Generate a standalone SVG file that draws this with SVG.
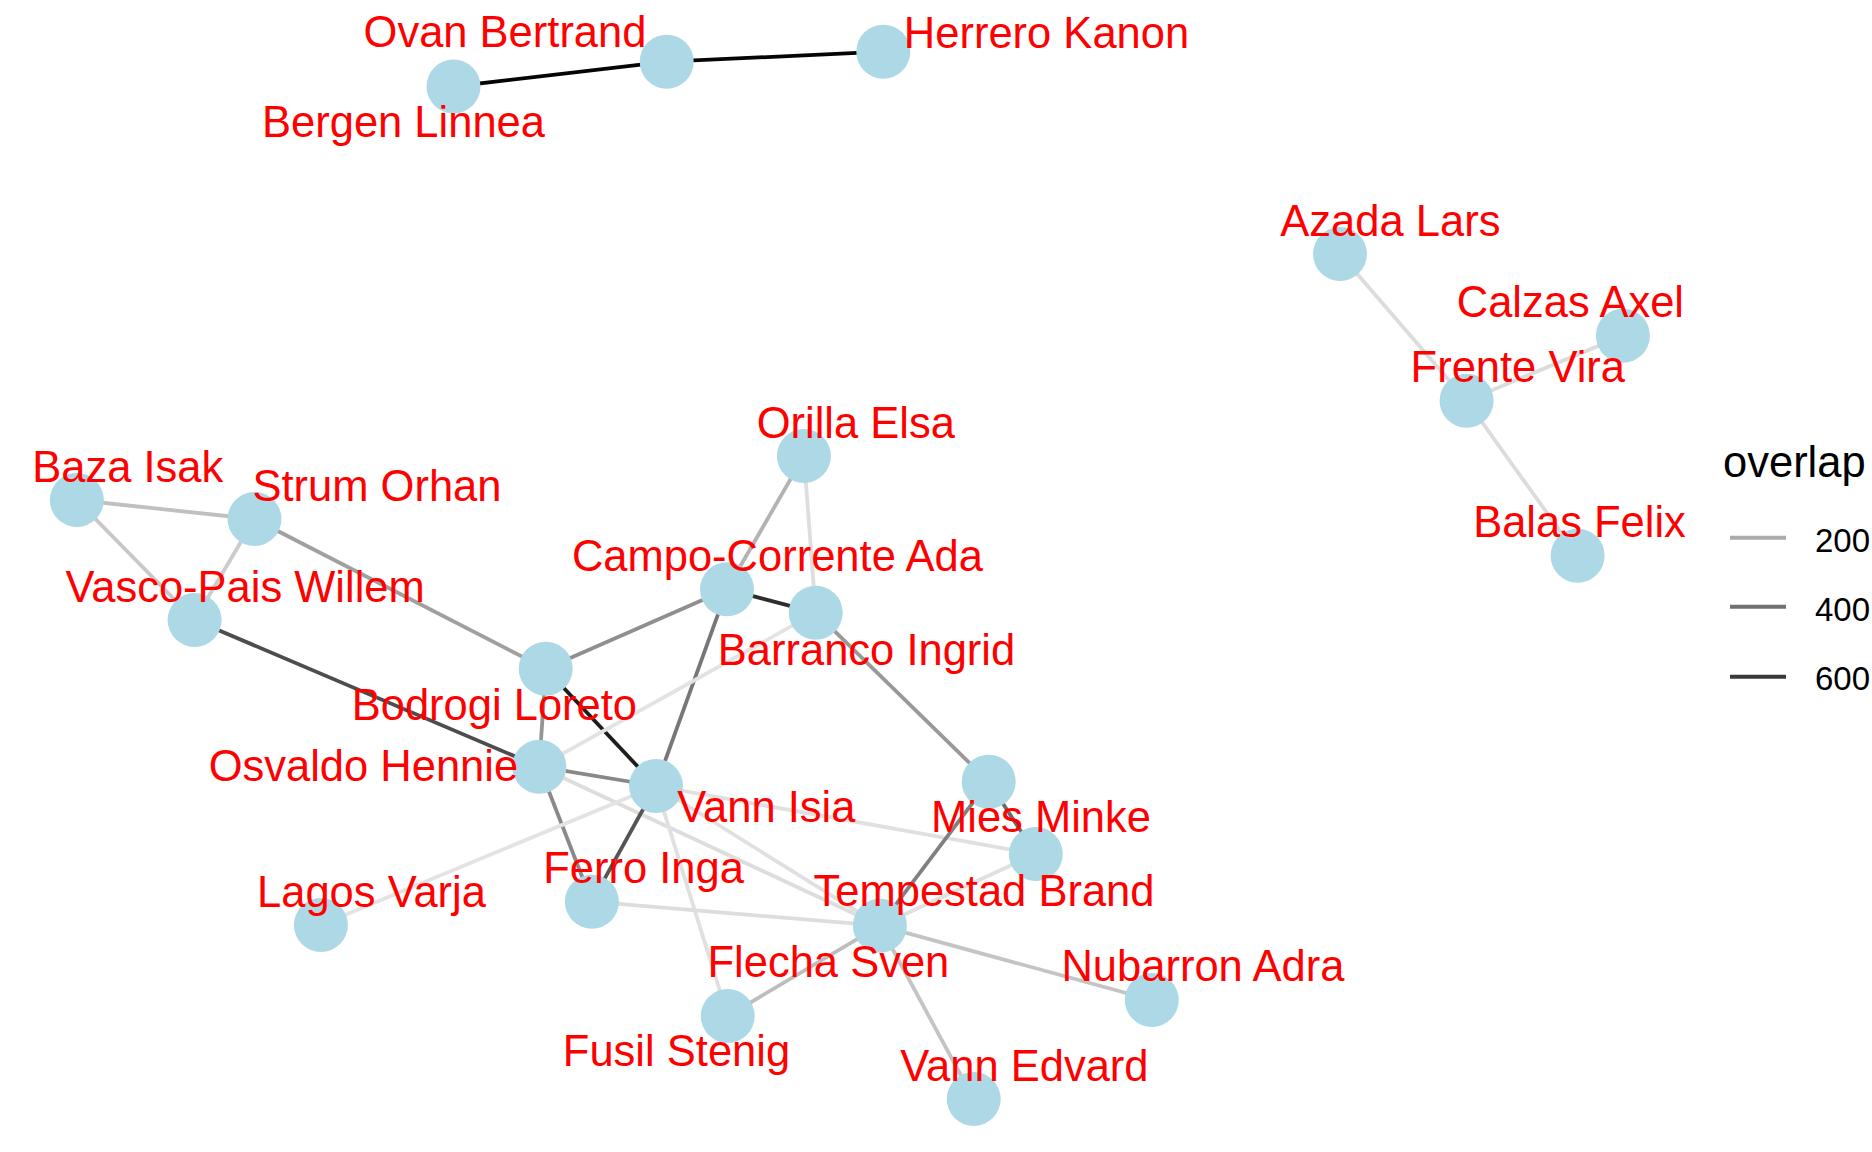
<svg xmlns="http://www.w3.org/2000/svg" width="1872" height="1152" viewBox="0 0 1872 1152">
  <style>
    .edge { fill: none; stroke-width: 3.8; stroke-linecap: butt; }
    .node circle { fill: #ADD8E6; }
    .label { font-family: "Liberation Sans", Arial, sans-serif; font-size: 43.5px; fill: #FF0000; text-anchor: middle; }
    .legend-title { font-family: "Liberation Sans", Arial, sans-serif; font-size: 43.5px; fill: #000000; }
    .legend-text { font-family: "Liberation Sans", Arial, sans-serif; font-size: 33px; fill: #000000; }
  </style>
  <rect width="1872" height="1152" fill="#FFFFFF"/>

  <!-- connectors, shaded by overlap -->
  <g id="edges">
    <line class="edge" x1="453.5" y1="86.5" x2="666.7" y2="61.7" stroke="#050505"/>
    <line class="edge" x1="666.7" y1="61.7" x2="883.3" y2="51.7" stroke="#050505"/>
    <line class="edge" x1="1340" y1="254" x2="1466.6" y2="400.7" stroke="#dcdcdc"/>
    <line class="edge" x1="1466.6" y1="400.7" x2="1622.9" y2="335.7" stroke="#dcdcdc"/>
    <line class="edge" x1="1466.6" y1="400.7" x2="1577.6" y2="555.7" stroke="#dcdcdc"/>
    <line class="edge" x1="76.8" y1="500" x2="254.5" y2="519" stroke="#c0c0c0"/>
    <line class="edge" x1="76.8" y1="500" x2="194.6" y2="620" stroke="#c8c8c8"/>
    <line class="edge" x1="254.5" y1="519" x2="194.6" y2="620" stroke="#cccccc"/>
    <line class="edge" x1="254.5" y1="519" x2="545.7" y2="668.7" stroke="#a0a0a0"/>
    <line class="edge" x1="194.6" y1="620" x2="539.3" y2="766.7" stroke="#4d4d4d"/>
    <line class="edge" x1="545.7" y1="668.7" x2="727" y2="589.3" stroke="#8f8f8f"/>
    <line class="edge" x1="545.7" y1="668.7" x2="656" y2="786" stroke="#1e1e1e"/>
    <line class="edge" x1="545.7" y1="668.7" x2="539.3" y2="766.7" stroke="#959595"/>
    <line class="edge" x1="803.9" y1="456" x2="727" y2="589.3" stroke="#b3b3b3"/>
    <line class="edge" x1="803.9" y1="456" x2="815.7" y2="612.7" stroke="#dedede"/>
    <line class="edge" x1="727" y1="589.3" x2="815.7" y2="612.7" stroke="#2d2d2d"/>
    <line class="edge" x1="727" y1="589.3" x2="656" y2="786" stroke="#777777"/>
    <line class="edge" x1="815.7" y1="612.7" x2="539.3" y2="766.7" stroke="#e3e3e3"/>
    <line class="edge" x1="815.7" y1="612.7" x2="988.7" y2="781.7" stroke="#999999"/>
    <line class="edge" x1="539.3" y1="766.7" x2="656" y2="786" stroke="#888888"/>
    <line class="edge" x1="539.3" y1="766.7" x2="591.9" y2="901.7" stroke="#8a8a8a"/>
    <line class="edge" x1="539.3" y1="766.7" x2="879.9" y2="925.7" stroke="#dddddd"/>
    <line class="edge" x1="656" y1="786" x2="591.9" y2="901.7" stroke="#555555"/>
    <line class="edge" x1="656" y1="786" x2="1035.8" y2="854" stroke="#e0e0e0"/>
    <line class="edge" x1="656" y1="786" x2="727.7" y2="1016" stroke="#e0e0e0"/>
    <line class="edge" x1="656" y1="786" x2="879.9" y2="925.7" stroke="#e0e0e0"/>
    <line class="edge" x1="320.9" y1="925" x2="656" y2="786" stroke="#e3e3e3"/>
    <line class="edge" x1="591.9" y1="901.7" x2="879.9" y2="925.7" stroke="#dddddd"/>
    <line class="edge" x1="879.9" y1="925.7" x2="988.7" y2="781.7" stroke="#808080"/>
    <line class="edge" x1="879.9" y1="925.7" x2="1035.8" y2="854" stroke="#e0e0e0"/>
    <line class="edge" x1="879.9" y1="925.7" x2="727.7" y2="1016" stroke="#bdbdbd"/>
    <line class="edge" x1="879.9" y1="925.7" x2="1151.8" y2="1000" stroke="#c4c4c4"/>
    <line class="edge" x1="879.9" y1="925.7" x2="973.7" y2="1099" stroke="#c4c4c4"/>
    <line class="edge" x1="988.7" y1="781.7" x2="1035.8" y2="854" stroke="#6a6a6a"/>
  </g>

  <!-- nodes -->
  <g id="node-bergen-linnea" class="node"><circle cx="453.5" cy="86.5" r="27"/></g>
  <g id="node-ovan-bertrand" class="node"><circle cx="666.7" cy="61.7" r="27"/></g>
  <g id="node-herrero-kanon" class="node"><circle cx="883.3" cy="51.7" r="27"/></g>
  <g id="node-azada-lars" class="node"><circle cx="1340" cy="254" r="27"/></g>
  <g id="node-calzas-axel" class="node"><circle cx="1622.9" cy="335.7" r="27"/></g>
  <g id="node-frente-vira" class="node"><circle cx="1466.6" cy="400.7" r="27"/></g>
  <g id="node-balas-felix" class="node"><circle cx="1577.6" cy="555.7" r="27"/></g>
  <g id="node-orilla-elsa" class="node"><circle cx="803.9" cy="456" r="27"/></g>
  <g id="node-baza-isak" class="node"><circle cx="76.8" cy="500" r="27"/></g>
  <g id="node-strum-orhan" class="node"><circle cx="254.5" cy="519" r="27"/></g>
  <g id="node-vasco-pais-willem" class="node"><circle cx="194.6" cy="620" r="27"/></g>
  <g id="node-campo-corrente-ada" class="node"><circle cx="727" cy="589.3" r="27"/></g>
  <g id="node-barranco-ingrid" class="node"><circle cx="815.7" cy="612.7" r="27"/></g>
  <g id="node-bodrogi-loreto" class="node"><circle cx="545.7" cy="668.7" r="27"/></g>
  <g id="node-osvaldo-hennie" class="node"><circle cx="539.3" cy="766.7" r="27"/></g>
  <g id="node-vann-isia" class="node"><circle cx="656" cy="786" r="27"/></g>
  <g id="node-mies-minke" class="node"><circle cx="988.7" cy="781.7" r="27"/></g>
  <g id="node-flecha-sven" class="node"><circle cx="1035.8" cy="854" r="27"/></g>
  <g id="node-lagos-varja" class="node"><circle cx="320.9" cy="925" r="27"/></g>
  <g id="node-ferro-inga" class="node"><circle cx="591.9" cy="901.7" r="27"/></g>
  <g id="node-tempestad-brand" class="node"><circle cx="879.9" cy="925.7" r="27"/></g>
  <g id="node-fusil-stenig" class="node"><circle cx="727.7" cy="1016" r="27"/></g>
  <g id="node-nubarron-adra" class="node"><circle cx="1151.8" cy="1000" r="27"/></g>
  <g id="node-vann-edvard" class="node"><circle cx="973.7" cy="1099" r="27"/></g>

  <!-- node labels -->
  <g id="labels">
    <text class="label" x="505" y="46.7">Ovan Bertrand</text>
    <text class="label" x="1046.5" y="47.5">Herrero Kanon</text>
    <text class="label" x="403.5" y="137">Bergen Linnea</text>
    <text class="label" x="1390.4" y="236">Azada Lars</text>
    <text class="label" x="1570.4" y="317.3">Calzas Axel</text>
    <text class="label" x="1517.8" y="382.3">Frente Vira</text>
    <text class="label" x="1579.5" y="536.7">Balas Felix</text>
    <text class="label" x="855.8" y="437.7">Orilla Elsa</text>
    <text class="label" x="127.7" y="481.7">Baza Isak</text>
    <text class="label" x="377" y="500.7">Strum Orhan</text>
    <text class="label" x="777.4" y="570.7">Campo-Corrente Ada</text>
    <text class="label" x="245.1" y="601.7">Vasco-Pais Willem</text>
    <text class="label" x="866.5" y="665">Barranco Ingrid</text>
    <text class="label" x="494.4" y="720">Bodrogi Loreto</text>
    <text class="label" x="363.4" y="781">Osvaldo Hennie</text>
    <text class="label" x="766.3" y="821.7">Vann Isia</text>
    <text class="label" x="1041" y="832.3">Mies Minke</text>
    <text class="label" x="643.6" y="883.3">Ferro Inga</text>
    <text class="label" x="984" y="905.7">Tempestad Brand</text>
    <text class="label" x="371.5" y="906.7">Lagos Varja</text>
    <text class="label" x="828.4" y="976.7">Flecha Sven</text>
    <text class="label" x="1202.9" y="981">Nubarron Adra</text>
    <text class="label" x="676.5" y="1066">Fusil Stenig</text>
    <text class="label" x="1024.4" y="1080.7">Vann Edvard</text>
  </g>

  <!-- edge colour legend -->
  <g id="legend">
    <text class="legend-title" x="1723" y="476.7">overlap</text>
    <line x1="1730" y1="537.7" x2="1786" y2="537.7" stroke="#ababab" stroke-width="4"/>
    <line x1="1730" y1="606.7" x2="1786" y2="606.7" stroke="#717171" stroke-width="4"/>
    <line x1="1730" y1="676.7" x2="1786" y2="676.7" stroke="#393939" stroke-width="4"/>
    <text class="legend-text" x="1815" y="551.7">200</text>
    <text class="legend-text" x="1815" y="620.7">400</text>
    <text class="legend-text" x="1815" y="689.7">600</text>
  </g>
</svg>
